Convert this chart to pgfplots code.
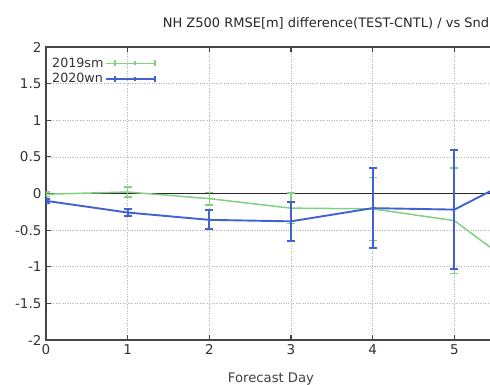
\documentclass[border=0pt]{standalone}
\usepackage{fontspec}
\setmainfont{DejaVu Sans}
\usepackage{pgfplots}
\pgfplotsset{compat=1.18}
\definecolor{gGreen}{RGB}{130,208,130}
\definecolor{gBlue}{RGB}{66,98,210}
\definecolor{gBorder}{RGB}{70,70,70}
\begin{document}
\begin{tikzpicture}[x=1pt,y=1pt]
\begin{axis}[
  scale only axis,
  at={(46pt,45pt)}, anchor=south west,
  width=490pt, height=293pt,
  xmin=0, xmax=6, ymin=-2, ymax=2,
  xtick={0,1,2,3,4,5},
  ytick={-2,-1.5,-1,-0.5,0,0.5,1,1.5,2},
  yticklabels={-2,-1.5,-1,-0.5,0,0.5,1,1.5,2},
  grid=major,
  major grid style={gray!60, dotted, line width=0.6pt},
  axis line style={gBorder, line width=1.1pt},
  tick style={gBorder, line width=1.1pt},
  tick align=inside,
  major tick length=5pt,
  ticklabel style={font=\fontsize{13.5}{15}\selectfont, text=black!80},
  /pgf/number format/assume math mode=true,
  xticklabel style={yshift=-1pt},
  yticklabel style={xshift=-1pt},
  clip=true,
  legend style={draw=none, fill=none, at={(0.003,0.975)}, anchor=north west,
    font=\fontsize{12.7}{14}\selectfont, text=black!80, row sep=1.5pt,
    nodes={inner sep=1.5pt}},
  legend cell align=left,
  legend plot pos=right,
  legend image code/.code={
    \path (0pt,0pt) -- (50pt,0pt);
    \draw[#1] (9pt,0pt) -- (49pt,0pt);
    \draw[#1] (9pt,-3pt) -- (9pt,3pt);
    \draw[#1] (49pt,-3pt) -- (49pt,3pt);
    \draw[#1] (29pt,-2pt) -- (29pt,2pt);
  },
]
\addplot[black!85, line width=1.1pt, forget plot] coordinates {(0,0) (6,0)};
\addplot[gGreen, line width=1.5pt,
  error bars/.cd, y dir=both, y explicit,
  error bar style={line width=1.5pt},
  error mark options={rotate=90, mark size=4pt, line width=1.5pt, gGreen}]
  coordinates {
  (0,-0.01) +- (0,0.03)
  (1,0.02) +- (0,0.07)
  (2,-0.07) +- (0,0.085)
  (3,-0.20) +- (0,0.21)
  (4,-0.21) +- (0,0.43)
  (5,-0.37) +- (0,0.72)
  (6,-1.20) +- (0,0.90)
  };
\addlegendentry{2019sm}
\addplot[gBlue, line width=1.9pt,
  error bars/.cd, y dir=both, y explicit,
  error bar style={line width=1.9pt},
  error mark options={rotate=90, mark size=4pt, line width=1.9pt, gBlue}]
  coordinates {
  (0,-0.10) +- (0,0.03)
  (1,-0.26) +- (0,0.05)
  (2,-0.36) +- (0,0.13)
  (3,-0.38) +- (0,0.27)
  (4,-0.20) +- (0,0.55)
  (5,-0.22) +- (0,0.81)
  (6,0.35) +- (0,0.90)
  };
\addlegendentry{2020wn}
\end{axis}
\node[font=\fontsize{13}{15}\selectfont, text=black!85] at (326pt,362pt) {NH Z500 RMSE[m] difference(TEST-CNTL) / vs Snd};
\node[font=\fontsize{13.2}{15}\selectfont, text=black!75, anchor=base] at (271pt,2.5pt) {Forecast Day};
\pgfresetboundingbox
\path[use as bounding box] (0,0) rectangle (490pt,385pt);
\end{tikzpicture}
\end{document}
